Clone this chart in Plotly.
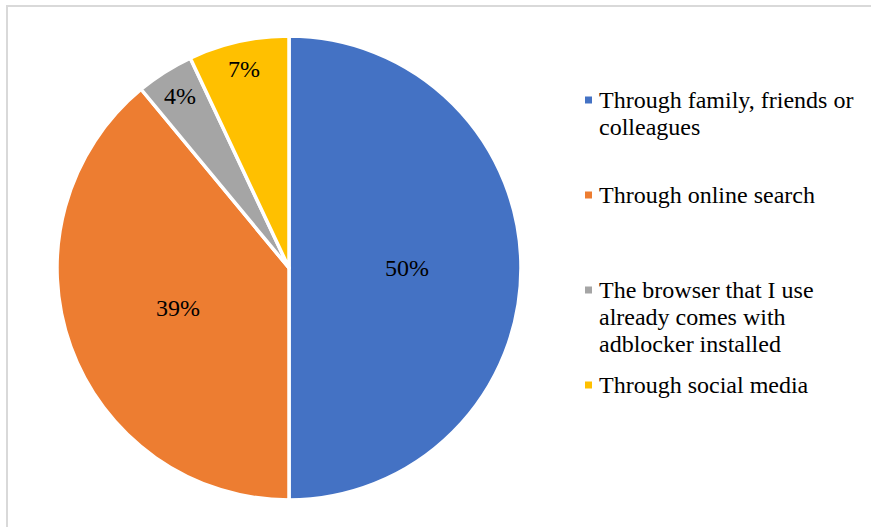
import math
import plotly.graph_objects as go

# Survey answers: how respondents first learned about adblockers
categories = [
    "Through family, friends or\ncolleagues",
    "Through online search",
    "The browser that I use\nalready comes with\nadblocker installed",
    "Through social media",
]
shares = [50, 39, 4, 7]
colors = ["#4472C4", "#ED7D31", "#A5A5A5", "#FFC000"]

W, H = 871, 527
FONT = "Liberation Serif"

# Pie placement in pixels (centre and radius)
CX, CY, R = 289, 268, 232


def px(x):
    return x / W


def py(y):
    return 1 - y / H


fig = go.Figure(
    go.Pie(
        labels=[c.replace("\n", " ") for c in categories],
        values=shares,
        sort=False,
        direction="clockwise",
        rotation=0,
        marker=dict(colors=colors, line=dict(color="white", width=3.5)),
        textinfo="none",
        hoverinfo="label+percent",
        showlegend=False,
        domain=dict(x=[px(CX - R), px(CX + R)], y=[py(CY + R), py(CY - R)]),
    )
)

annotations = []
shapes = []

# Percentage labels, placed on each slice's bisector
total = sum(shares)
cum = 0
for v in shares:
    frac = v / total
    mid = (cum + frac / 2) * 2 * math.pi
    cum += frac
    dist = 0.51 * R if frac > 0.15 else 0.88 * R
    lx = CX + dist * math.sin(mid)
    ly = CY - dist * math.cos(mid)
    annotations.append(
        dict(
            x=px(lx), y=py(ly), xref="paper", yref="paper",
            text=f"{round(v / total * 100)}%", showarrow=False,
            xanchor="center", yanchor="middle",
            font=dict(family=FONT, size=24, color="black"),
        )
    )

# Legend drawn by hand: evenly spaced entries with tight line spacing
LEG_X_BOX, LEG_X_TXT = 585, 597
LEG_Y0, LEG_STEP, LINE_STEP = 100, 95, 27
for i, (cat, col) in enumerate(zip(categories, colors)):
    y0 = LEG_Y0 + i * LEG_STEP
    shapes.append(
        dict(
            type="rect", xref="paper", yref="paper",
            x0=px(LEG_X_BOX), x1=px(LEG_X_BOX + 7),
            y0=py(y0 + 3.5), y1=py(y0 - 3.5),
            fillcolor=col, line=dict(width=0),
        )
    )
    for j, line in enumerate(cat.split("\n")):
        annotations.append(
            dict(
                x=px(LEG_X_TXT), y=py(y0 + j * LINE_STEP), xref="paper", yref="paper",
                text=line, showarrow=False, xanchor="left", yanchor="middle",
                font=dict(family=FONT, size=24, color="black"),
            )
        )

# Chart frame (top and left edges visible)
frame = dict(color="#D9D9D9", width=2)
shapes.append(dict(type="line", xref="paper", yref="paper",
                   x0=px(6), x1=1.0, y0=py(6), y1=py(6), line=frame))
shapes.append(dict(type="line", xref="paper", yref="paper",
                   x0=px(7), x1=px(7), y0=py(6), y1=0.0, line=frame))

fig.update_layout(
    width=W, height=H,
    margin=dict(l=0, r=0, t=0, b=0),
    paper_bgcolor="white", plot_bgcolor="white",
    font=dict(family=FONT),
    annotations=annotations, shapes=shapes,
)

fig.write_html("out.html")
